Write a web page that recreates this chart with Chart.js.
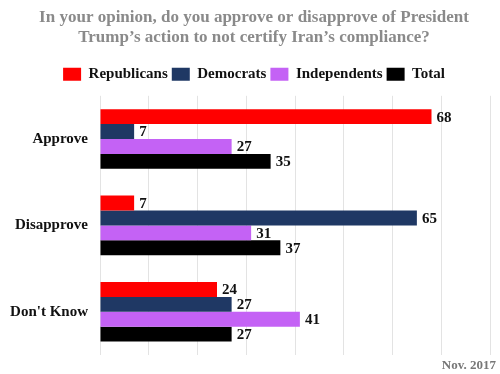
<!DOCTYPE html>
<html>
<head>
<meta charset="utf-8">
<script src="https://cdn.jsdelivr.net/npm/chart.js@4.4.0/dist/chart.umd.min.js"></script>
<style>
  html, body { margin: 0; padding: 0; background: #fff; }
  #wrap { width: 500px; height: 374px; position: relative; }
</style>
</head>
<body>
<div id="wrap"><canvas id="chartBar"></canvas></div>
<script>
const categories = ["Approve", "Disapprove", "Don't Know"];
const seriesNames = ["Republicans", "Democrats", "Independents", "Total"];
const republicans = [68, 7, 24];
const democrats = [7, 65, 27];
const independents = [27, 31, 41];
const total = [35, 37, 27];
const seriesColors = ["#ff0000", "#1f3864", "#c462f5", "#000000"];
const titleLines = ["In your opinion, do you approve or disapprove of President", "Trump\u2019s action to not certify Iran\u2019s compliance?"];
const footNote = "Nov. 2017";

const serif = "'Liberation Serif', 'DejaVu Serif', serif";

// value labels at the end of each bar + date in the corner
const barLabels = {
  id: 'barLabels',
  afterDatasetsDraw(chart) {
    let ctx = chart.ctx;
    ctx.save();
    ctx.font = "bold 15px " + serif;
    ctx.fillStyle = "#111";
    ctx.textBaseline = "middle";
    ctx.textAlign = "left";
    chart.data.datasets.forEach(function(ds, i) {
      chart.getDatasetMeta(i).data.forEach(function(bar, j) {
        ctx.fillText(ds.data[j], bar.x + 5, bar.y + 1);
      });
    });
    ctx.font = "bold 13px " + serif;
    ctx.fillStyle = "#777";
    ctx.textAlign = "right";
    ctx.fillText(footNote, 496, 366);
    ctx.restore();
  }
};

// a bit more room between the legend and the bars
const legendGap = {
  id: 'legendGap',
  beforeInit(chart) {
    let fit = chart.legend.fit;
    chart.legend.fit = function() {
      fit.bind(chart.legend)();
      this.height += 4;
    };
  }
};

const dataBar = {
  labels: categories,
  datasets: [republicans, democrats, independents, total].map(function(vals, i) {
    return {
      label: seriesNames[i],
      data: vals,
      backgroundColor: seriesColors[i],
      categoryPercentage: 0.69,
      barPercentage: 1.0
    };
  })
};

const configBar = {
  type: "bar",
  data: dataBar,
  options: {
    indexAxis: 'y',
    responsive: true,
    maintainAspectRatio: false,
    animation: false,
    layout: { padding: { left: 8, right: 0, top: 0, bottom: 19 } },
    scales: {
      x: {
        min: 0,
        max: 80,
        ticks: { display: false, stepSize: 10 },
        grid: { color: "#e3e3e3", drawTicks: false },
        border: { display: false }
      },
      y: {
        grid: { display: false },
        border: { display: false },
        ticks: { color: "#111", font: { family: serif, weight: "bold", size: 15 }, padding: 4 },
        afterFit: function(scale) { scale.width = 92; }
      },
      // empty strip on the right so the plot stops short of the edge
      y2: {
        type: 'category',
        position: 'right',
        grid: { display: false },
        border: { display: false },
        ticks: { display: false },
        afterFit: function(scale) { scale.width = 10; }
      }
    },
    plugins: {
      title: {
        display: true,
        text: titleLines,
        color: "#8a8a8a",
        font: { family: serif, weight: "bold", size: 17 },
        lineHeight: 0.95,
        padding: { top: 7, bottom: 15 }
      },
      legend: {
        labels: {
          boxWidth: 18,
          boxHeight: 13,
          padding: 4,
          color: "#111",
          font: { family: serif, weight: "bold", size: 15 }
        }
      },
      tooltip: { enabled: false }
    }
  },
  plugins: [barLabels, legendGap]
};

var chartBar = new Chart(document.getElementById("chartBar"), configBar);
</script>
</body>
</html>
